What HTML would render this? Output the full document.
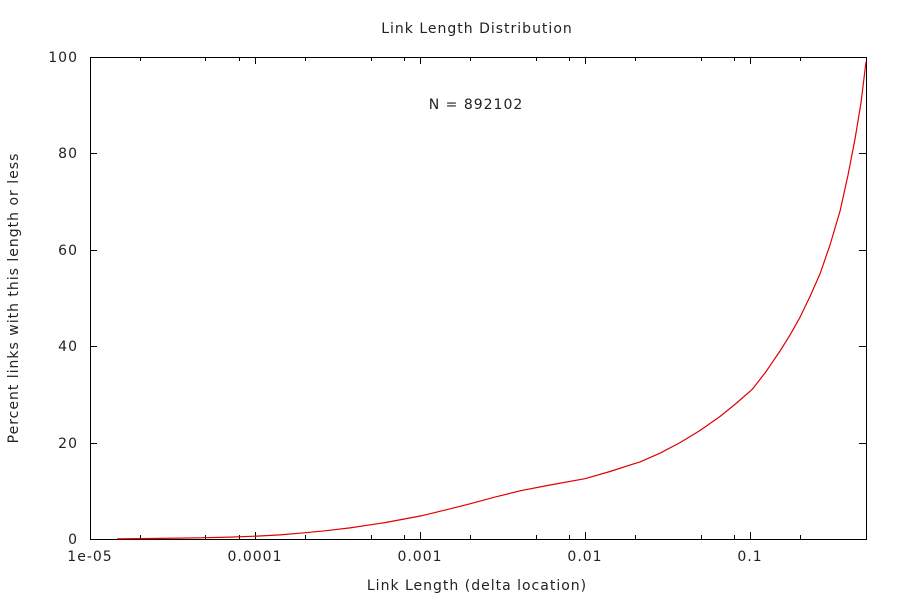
<!DOCTYPE html>
<html><head><meta charset="utf-8"><style>body{margin:0;background:#fff}svg{display:block}text{font-family:"DejaVu Sans","Liberation Sans",sans-serif;font-size:14px;fill:#222;letter-spacing:1px}</style></head><body>
<svg width="900" height="600" xmlns="http://www.w3.org/2000/svg">
<rect width="900" height="600" fill="#fff"/>
<text x="477" y="33" text-anchor="middle">Link Length Distribution</text>
<g stroke="#000" stroke-width="1" fill="none" shape-rendering="crispEdges">
<rect x="90.5" y="57.5" width="776" height="482"/>
<path d="M90,539.5h7M866,539.5h-7M90,443.5h7M866,443.5h-7M90,346.5h7M866,346.5h-7M90,250.5h7M866,250.5h-7M90,153.5h7M866,153.5h-7M90,57.5h7M866,57.5h-7"/>
<path d="M255.5,539v-7M255.5,57v7M420.5,539v-7M420.5,57v7M585.5,539v-7M585.5,57v7M750.5,539v-7M750.5,57v7"/>
<path d="M140.5,539v-4M140.5,57v4M205.5,539v-4M205.5,57v4M239.5,539v-4M239.5,57v4M305.5,539v-4M305.5,57v4M371.5,539v-4M371.5,57v4M404.5,539v-4M404.5,57v4M470.5,539v-4M470.5,57v4M536.5,539v-4M536.5,57v4M569.5,539v-4M569.5,57v4M635.5,539v-4M635.5,57v4M701.5,539v-4M701.5,57v4M734.5,539v-4M734.5,57v4M800.5,539v-4M800.5,57v4M866.5,539v-4M866.5,57v4"/>
</g>
<g text-anchor="end">
<text x="78" y="544">0</text><text x="78" y="448">20</text><text x="78" y="351">40</text><text x="78" y="255">60</text><text x="78" y="158">80</text><text x="78" y="62">100</text>
</g>
<g text-anchor="middle">
<text x="90" y="561">1e-05</text><text x="255" y="561">0.0001</text><text x="420" y="561">0.001</text><text x="585" y="561">0.01</text><text x="750" y="561">0.1</text>
<text x="477" y="590">Link Length (delta location)</text>
<text x="476" y="109">N = 892102</text>
<text transform="translate(18,298) rotate(-90)">Percent links with this length or less</text>
</g>
<polyline fill="none" stroke="#e00000" stroke-width="1.2" stroke-linejoin="round" points="117,538.8 140,538.6 160,538.4 180,538.1 200,537.8 230,537.1 257,536.1 280,534.9 300,533.2 325,530.8 350,527.9 385,522.6 421,515.9 445,510.1 470,503.8 495,497.1 520,490.8 550,485 585,478.7 610,471.5 640,461.9 660,453.2 680,442.6 700,430.5 720,416.5 736,403.5 752,389.6 766,371.7 780,351 790,335.1 800,317.3 810,296.5 820,273.9 830,245 840,211.2 848,175.1 855,139 861,102.8 866,61.8"/>
</svg>
</body></html>
